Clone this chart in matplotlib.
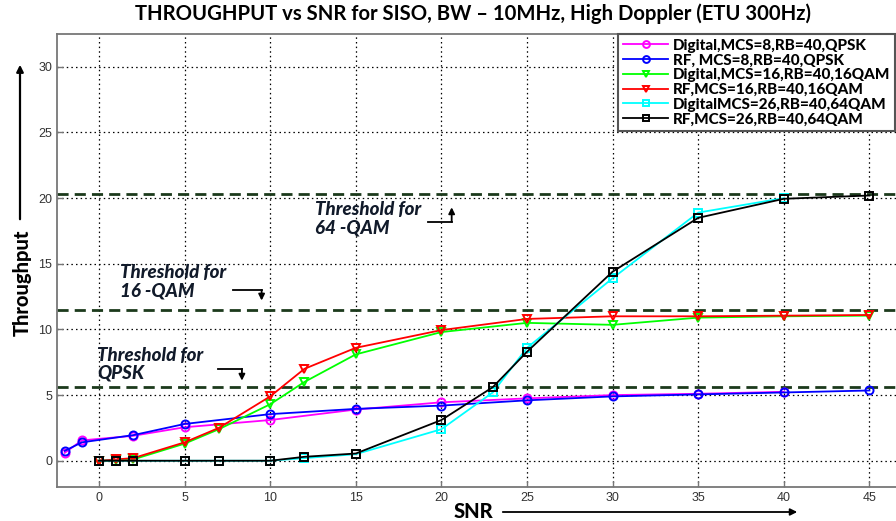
import matplotlib
matplotlib.use("Agg")
import matplotlib.pyplot as plt

# ---------------- data ----------------
x_mcs8_dig = [-2, -1, 2, 5, 10, 15, 20, 25, 30, 35, 40]
y_mcs8_dig = [0.6, 1.55, 1.9, 2.55, 3.1, 3.9, 4.45, 4.75, 5.0, 5.1, 5.25]

x_mcs8_rf = [-2, -1, 2, 5, 10, 15, 20, 25, 30, 35, 40, 45]
y_mcs8_rf = [0.75, 1.4, 1.95, 2.8, 3.55, 3.95, 4.2, 4.6, 4.9, 5.05, 5.2, 5.35]

x_mcs16 = [0, 1, 2, 5, 7, 10, 12, 15, 20, 25, 30, 35, 40, 45]
y_mcs16_dig = [0, 0.05, 0.1, 1.3, 2.4, 4.3, 6.0, 8.1, 9.8, 10.5, 10.35, 10.9, 11.0, 11.05]
y_mcs16_rf = [0, 0.1, 0.2, 1.4, 2.5, 4.9, 7.0, 8.6, 9.95, 10.8, 11.0, 11.0, 11.05, 11.1]

x_mcs26_dig = [0, 1, 2, 5, 7, 10, 12, 15, 20, 23, 25, 30, 35, 40]
y_mcs26_dig = [0, 0, 0, 0, 0, 0, 0.2, 0.5, 2.4, 5.2, 8.6, 13.9, 18.9, 20.0]
x_mcs26_rf = [0, 1, 2, 5, 7, 10, 12, 15, 20, 23, 25, 30, 35, 40, 45]
y_mcs26_rf = [0, 0, 0, 0, 0, 0, 0.3, 0.55, 3.1, 5.6, 8.3, 14.4, 18.5, 19.95, 20.2]

labels = ["Digital,MCS=8,RB=40,QPSK", "RF, MCS=8,RB=40,QPSK",
          "Digital,MCS=16,RB=40,16QAM", "RF,MCS=16,RB=40,16QAM",
          "DigitalMCS=26,RB=40,64QAM", "RF,MCS=26,RB=40,64QAM"]

thresholds = [5.6, 11.45, 20.35]
xticks = [0, 5, 10, 15, 20, 25, 30, 35, 40, 45]
yticks = [0, 5, 10, 15, 20, 25, 30]

title = "THROUGHPUT vs SNR for SISO, BW \u2013 10MHz, High Doppler (ETU 300Hz)"

# ---------------- figure ----------------
W, H = 896, 521
fig = plt.figure(figsize=(W / 100, H / 100), dpi=100)
ax = fig.add_axes([57 / W, (H - 487) / H, 845 / W, (487 - 34) / H])
ax.set_xlim(-2.45, 46.9)
ax.set_ylim(-2, 32.5)

ax.set_xticks(xticks)
ax.set_yticks(yticks)
ax.grid(True, color="black", linestyle=(0, (1.2, 2.5)), linewidth=0.9)
ax.tick_params(direction="in", length=4, color="#777777", labelcolor="#333333",
               labelsize=9, width=1)
for lab in ax.get_xticklabels() + ax.get_yticklabels():
    lab.set_family("Liberation Sans")
for s in ["left", "bottom", "top"]:
    ax.spines[s].set_color("#777777")
    ax.spines[s].set_linewidth(1.3)
ax.spines["right"].set_visible(False)

# threshold lines
for t in thresholds:
    ax.axhline(t, color="#1c3a1c", linewidth=2.0, linestyle=(0, (4, 2.2)), zorder=2)

mk = dict(markerfacecolor="none", markersize=5.8, markeredgewidth=1.4, linewidth=1.3)
ax.plot(x_mcs8_dig, y_mcs8_dig, color="#ff00ff", marker="o", label=labels[0], **mk)
ax.plot(x_mcs8_rf, y_mcs8_rf, color="#0000ff", marker="o", label=labels[1], **mk)
ax.plot(x_mcs16, y_mcs16_dig, color="#00ff00", marker="v", label=labels[2], **mk)
ax.plot(x_mcs16, y_mcs16_rf, color="#ff0000", marker="v", label=labels[3], **mk)
ax.plot(x_mcs26_dig, y_mcs26_dig, color="#00ffff", marker="s", label=labels[4], **mk)
ax.plot(x_mcs26_rf, y_mcs26_rf, color="#000000", marker="s", label=labels[5], **mk)

leg = ax.legend(loc="upper right", bbox_to_anchor=(895 / W, 1 - 34 / H),
                bbox_transform=fig.transFigure,
                prop={"family": "Lato", "weight": "black", "size": 11},
                frameon=True, fancybox=False, framealpha=1, edgecolor="#555555",
                borderpad=0.3, labelspacing=0.05, handlelength=3.0,
                handletextpad=0.3, borderaxespad=0, markerscale=0.85)
leg.get_frame().set_linewidth(1.5)

# threshold annotations
tfont = dict(family="Lato", weight="black", style="italic", size=13.5,
             color="#111a2a", va="top", ha="left", linespacing=1.1)
ax.text(12.6, 19.75, "Threshold for\n64 -QAM", **tfont)
ax.text(1.25, 14.95, "Threshold for\n16 -QAM", **tfont)
ax.text(-0.1, 8.7, "Threshold for\nQPSK", **tfont)

def bent_arrow(x0, x1, y0, y1):
    ax.plot([x0, x1], [y0, y0], color="black", linewidth=1.3, zorder=5)
    ax.annotate("", xy=(x1, y1), xytext=(x1, y0),
                arrowprops=dict(arrowstyle="-|>", color="black", lw=1.3,
                                mutation_scale=9, shrinkA=0, shrinkB=0), zorder=5)

bent_arrow(19.2, 20.6, 18.2, 19.3)
bent_arrow(7.8, 9.5, 13.0, 12.2)
bent_arrow(6.95, 8.35, 7.0, 6.1)

# title and axis labels
fig.text(473 / W, 1 - 14 / H, title, ha="center", va="center",
         family="Lato", weight="bold", size=14.6, color="black")
fig.text(473 / W, 1 - 511 / H, "SNR", ha="center", va="center",
         family="Lato", weight="black", size=14.5, color="black")
fig.text(22 / W, 1 - 283 / H, "Throughput", ha="center", va="center",
         rotation=90, family="Lato", weight="black", size=14.5, color="black")
fig.add_artist(matplotlib.patches.FancyArrowPatch(
    (500 / W, 1 - 512 / H), (800 / W, 1 - 512 / H), transform=fig.transFigure,
    arrowstyle="-|>", mutation_scale=10, color="black", lw=1.3))
fig.add_artist(matplotlib.patches.FancyArrowPatch(
    (20 / W, 1 - 222 / H), (20 / W, 1 - 62 / H), transform=fig.transFigure,
    arrowstyle="-|>", mutation_scale=10, color="black", lw=1.6))

fig.savefig("out.png", dpi=100)
